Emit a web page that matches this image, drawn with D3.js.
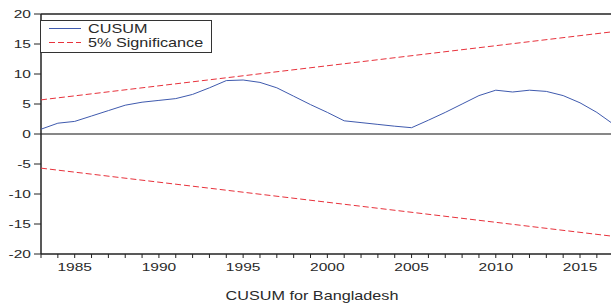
<!DOCTYPE html>
<html>
<head>
<meta charset="utf-8">
<script src="https://cdnjs.cloudflare.com/ajax/libs/d3/7.8.5/d3.min.js"></script>
<style>
  body { margin: 0; background: #fff; }
  text { font-family: "Liberation Sans", Arial, sans-serif; fill: #2a2a2a; }
</style>
</head>
<body>
<svg width="611" height="306"></svg>
<script>
// CUSUM values by year
var years = [1983, 1984, 1985, 1986, 1987, 1988, 1989, 1990, 1991, 1992,
             1993, 1994, 1995, 1996, 1997, 1998, 1999, 2000, 2001, 2002,
             2003, 2004, 2005, 2006, 2007, 2008, 2009, 2010, 2011, 2012,
             2013, 2014, 2015, 2016, 2017];
var cusum = [0.8, 1.8, 2.1, 3.0, 3.9, 4.8, 5.3, 5.6, 5.9, 6.6,
             7.7, 8.9, 9.0, 8.6, 7.7, 6.3, 4.9, 3.6, 2.2, 1.9,
             1.6, 1.3, 1.05, 2.3, 3.6, 5.0, 6.4, 7.3, 7.0, 7.3,
             7.1, 6.4, 5.2, 3.6, 1.6];
// 5% significance bounds (straight lines, start and end)
var boundYears = [1983, 2017];
var upperBound = [5.69, 17.06];
var lowerBound = [-5.69, -17.06];
var yTicks = [-20, -15, -10, -5, 0, 5, 10, 15, 20];
var xLabels = [1985, 1990, 1995, 2000, 2005, 2010, 2015];
var legendNames = ["CUSUM", "5% Significance"];
var chartTitle = "CUSUM for Bangladesh";

var svg = d3.select("svg");
var pLeft = 41, pRight = 613.7, pTop = 14, pBottom = 254;
var stretch = 1.35;

var x = d3.scaleLinear().domain([1983, 2017]).range([pLeft, pRight]);
var y = d3.scaleLinear().domain([-20, 20]).range([pBottom, pTop]);

var blue = "#3f5aae", red = "#e8323c";

// frame: top line and zero line
svg.append("line").attr("x1", pLeft).attr("x2", 611).attr("y1", pTop).attr("y2", pTop)
  .attr("stroke", "#222").attr("stroke-width", 1.5);
svg.append("line").attr("x1", pLeft).attr("x2", 611).attr("y1", y(0)).attr("y2", y(0))
  .attr("stroke", "#111").attr("stroke-width", 1.2);

// y axis
svg.append("line").attr("x1", pLeft).attr("x2", pLeft).attr("y1", pTop).attr("y2", pBottom)
  .attr("stroke", "#222").attr("stroke-width", 1.5);
yTicks.forEach(function(t) {
  svg.append("line").attr("x1", pLeft - 7).attr("x2", pLeft).attr("y1", y(t)).attr("y2", y(t))
    .attr("stroke", "#222").attr("stroke-width", 1);
  svg.append("text")
    .attr("transform", "translate(" + (pLeft - 10) + "," + (y(t) + 4) + ") scale(" + stretch + ",1)")
    .attr("text-anchor", "end").style("font-size", "11.5px")
    .text(t);
});

// x axis
svg.append("line").attr("x1", pLeft).attr("x2", 611).attr("y1", pBottom).attr("y2", pBottom)
  .attr("stroke", "#222").attr("stroke-width", 1.5);
d3.range(1983, 2018).forEach(function(yr) {
  svg.append("line").attr("x1", x(yr)).attr("x2", x(yr)).attr("y1", pBottom).attr("y2", pBottom + 4)
    .attr("stroke", "#222").attr("stroke-width", 1);
});
xLabels.forEach(function(yr) {
  svg.append("text")
    .attr("transform", "translate(" + x(yr) + "," + (pBottom + 17) + ") scale(" + stretch + ",1)")
    .attr("text-anchor", "middle").style("font-size", "11.5px")
    .text(yr);
});

// significance lines
var bLine = d3.line().x(function(d) { return x(d[0]); }).y(function(d) { return y(d[1]); });
[upperBound, lowerBound].forEach(function(b) {
  svg.append("path")
    .datum(boundYears.map(function(yr, i) { return [yr, b[i]]; }))
    .attr("d", bLine).attr("fill", "none")
    .attr("stroke", red).attr("stroke-width", 1).attr("stroke-dasharray", "6,3");
});

// cusum line
svg.append("path")
  .datum(years.map(function(yr, i) { return [yr, cusum[i]]; }))
  .attr("d", bLine).attr("fill", "none")
  .attr("stroke", blue).attr("stroke-width", 1);

// legend
var lg = svg.append("g");
lg.append("rect").attr("x", 40.5).attr("y", 20.5).attr("width", 171).attr("height", 32)
  .attr("fill", "#fff").attr("stroke", "#333").attr("stroke-width", 1);
legendNames.forEach(function(name, i) {
  var ly = 28.5 + i * 14;
  lg.append("line").attr("x1", 49).attr("x2", 81).attr("y1", ly).attr("y2", ly)
    .attr("stroke", i === 0 ? blue : red).attr("stroke-width", 1)
    .attr("stroke-dasharray", i === 0 ? null : "6,3");
  lg.append("text")
    .attr("transform", "translate(88," + (ly + 4) + ") scale(" + stretch + ",1)")
    .style("font-size", "12px")
    .text(name);
});

// title below
svg.append("text")
  .attr("transform", "translate(312,300) scale(" + stretch + ",1)")
  .attr("text-anchor", "middle").style("font-size", "12px")
  .text(chartTitle);
</script>
</body>
</html>
